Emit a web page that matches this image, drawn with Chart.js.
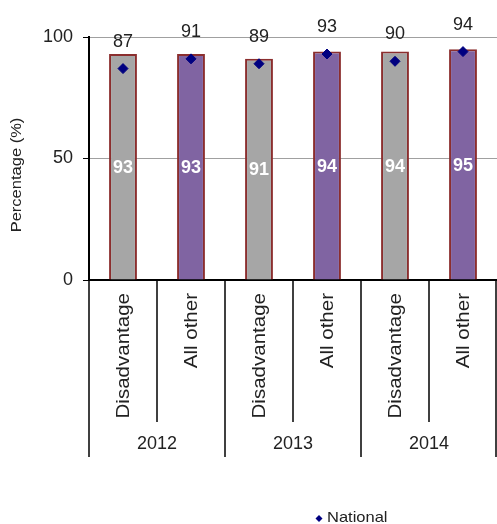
<!DOCTYPE html>
<html>
<head>
<meta charset="utf-8">
<script src="https://cdn.jsdelivr.net/npm/chart.js@4/dist/chart.umd.min.js"></script>
<style>
  html, body { margin: 0; padding: 0; background: #fff; }
  #wrap { width: 497px; height: 524px; position: relative; }
</style>
</head>
<body>
<div id="wrap"><canvas id="schoolChart"></canvas></div>
<script>
const years = ['2012', '2013', '2014'];
const groups = ['Disadvantage', 'All other'];
const schoolValues = [93, 93, 91, 94, 94, 95];
const nationalValues = [87, 91, 89, 93, 90, 94];
const yTicks = [0, 50, 100];

const labels = [];
years.forEach(y => groups.forEach(g => labels.push(g + ' ' + y)));
const barColors = labels.map((l, i) => i % 2 === 0 ? '#A6A6A6' : '#8064A2');

const FONT = 'Arial, "Liberation Sans", sans-serif';

// draws value labels, the two-level category axis, y title and legend
const extras = {
    id: 'extras',
    afterDatasetsDraw(chart) {
        const ctx = chart.ctx;
        const x = chart.scales.x;
        const y = chart.scales.y;
        const w = (x.right - x.left) / labels.length;
        ctx.save();

        // white values inside bars
        ctx.font = 'bold 18px ' + FONT;
        ctx.fillStyle = '#fff';
        ctx.textAlign = 'center';
        ctx.textBaseline = 'middle';
        schoolValues.forEach((v, i) => {
            ctx.fillText(String(v), x.getPixelForValue(i), (y.getPixelForValue(v) + y.getPixelForValue(0)) / 2 + 1);
        });

        // national values above diamonds
        ctx.font = '18px ' + FONT;
        ctx.fillStyle = '#222';
        nationalValues.forEach((v, i) => {
            ctx.fillText(String(v), x.getPixelForValue(i), y.getPixelForValue(v) - 27);
        });

        // separators under axis
        ctx.strokeStyle = '#000';
        ctx.lineWidth = 1.5;
        for (let k = 0; k <= labels.length; k++) {
            const px = Math.min(x.left + k * w, chart.width - 1);
            const end = k % 2 === 0 ? 457 : 422;
            ctx.beginPath();
            ctx.moveTo(px, y.bottom);
            ctx.lineTo(px, end);
            ctx.stroke();
        }

        // rotated category labels
        ctx.font = '19px ' + FONT;
        ctx.fillStyle = '#222';
        labels.forEach((l, i) => {
            ctx.save();
            ctx.translate(x.getPixelForValue(i) + 1, y.bottom + 13);
            ctx.rotate(-Math.PI / 2);
            ctx.scale(1.08, 1);
            ctx.textAlign = 'right';
            ctx.textBaseline = 'middle';
            ctx.fillText(groups[i % 2], 0, 0);
            ctx.restore();
        });

        // year labels
        ctx.font = '18px ' + FONT;
        ctx.textAlign = 'center';
        years.forEach((yr, j) => {
            ctx.fillText(yr, x.left + (2 * j + 1) * w, 444);
        });

        // y axis title
        ctx.save();
        ctx.translate(17, 175);
        ctx.rotate(-Math.PI / 2);
        ctx.scale(1.1, 1);
        ctx.font = '15px ' + FONT;
        ctx.fillText('Percentage (%)', 0, 0);
        ctx.restore();

        // legend
        ctx.fillStyle = '#000080';
        ctx.beginPath();
        ctx.moveTo(319, 515);
        ctx.lineTo(322.5, 518.5);
        ctx.lineTo(319, 522);
        ctx.lineTo(315.5, 518.5);
        ctx.closePath();
        ctx.fill();
        ctx.fillStyle = '#222';
        ctx.font = '15px ' + FONT;
        ctx.textAlign = 'left';
        ctx.save();
        ctx.translate(327, 518);
        ctx.scale(1.1, 1);
        ctx.fillText('National', 0, 0);
        ctx.restore();

        ctx.restore();
    }
};

const chart = new Chart(document.getElementById('schoolChart'), {
    type: 'bar',
    data: {
        labels: labels,
        datasets: [{
            type: 'line',
            label: 'National',
            data: nationalValues,
            showLine: false,
            pointStyle: 'rectRot',
            pointRadius: 5,
            pointBackgroundColor: '#000080',
            pointBorderColor: '#000080',
            order: 0
        }, {
            label: 'School',
            data: schoolValues,
            backgroundColor: barColors,
            borderColor: '#8B2E2E',
            borderWidth: 2,
            barPercentage: 0.41,
            categoryPercentage: 1,
            order: 1
        }]
    },
    options: {
        responsive: true,
        maintainAspectRatio: false,
        animation: false,
        layout: { autoPadding: false, padding: { top: 37, right: 0, left: 0, bottom: 0 } },
        plugins: {
            legend: { display: false },
            tooltip: { enabled: false }
        },
        scales: {
            x: {
                grid: { display: false },
                border: { color: '#000', width: 2 },
                ticks: { display: false },
                afterFit(scale) { scale.height = 524 - 280; }
            },
            y: {
                min: 0,
                max: 100,
                afterBuildTicks(scale) { scale.ticks = yTicks.map(v => ({ value: v })); },
                ticks: {
                    font: { size: 18, family: FONT },
                    color: '#222',
                    padding: 10
                },
                grid: {
                    color: '#A0A0A0',
                    tickColor: '#000',
                    tickLength: 6
                },
                border: { color: '#000', width: 2 },
                afterFit(scale) { scale.width = 89; }
            }
        }
    },
    plugins: [extras]
});
</script>
</body>
</html>
